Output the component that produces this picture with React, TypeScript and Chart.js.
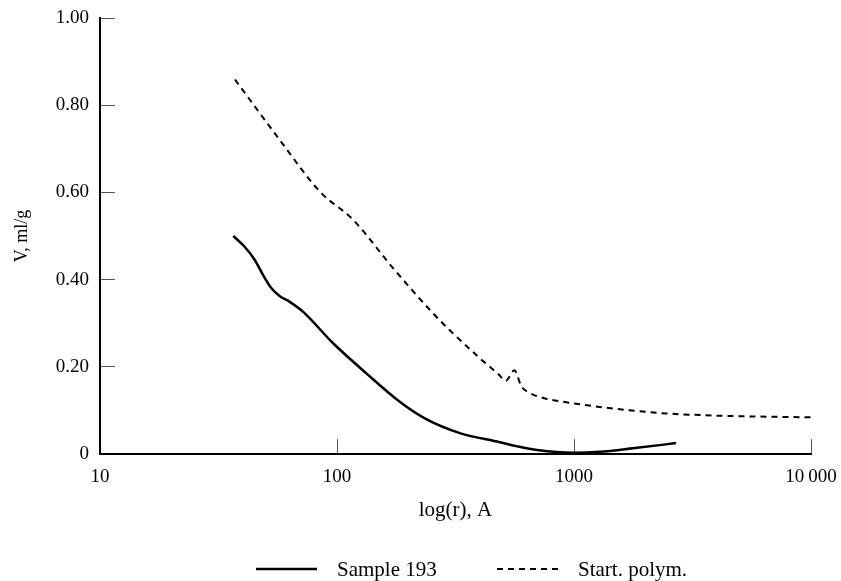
import React, { useEffect, useRef } from "react";
import { Chart, registerables } from "chart.js";

Chart.register(...registerables);

// ---- Data ----
const sampleR = [36.5, 40.5, 45, 48.8, 52.9, 57.4, 63.2, 72, 96.3, 133, 184, 238, 330, 486, 571, 700, 1000, 1282, 1771, 2698];
const sampleV = [0.5, 0.477, 0.445, 0.41, 0.38, 0.362, 0.349, 0.326, 0.254, 0.185, 0.12, 0.08, 0.048, 0.027, 0.018, 0.009, 0.003, 0.005, 0.013, 0.025];

const polymR = [37.1, 57.4, 84.6, 117, 172.6, 254, 299, 400, 480, 515, 560, 600, 650, 750, 900, 1280, 1800, 2450, 3500, 4700, 10000];
const polymV = [0.859, 0.72, 0.602, 0.537, 0.426, 0.323, 0.284, 0.22, 0.183, 0.168, 0.192, 0.155, 0.14, 0.128, 0.12, 0.108, 0.099, 0.093, 0.089, 0.087, 0.084];

const seriesLabels = ["Sample 193", "Start. polym."];

const xTickValues = [10, 100, 1000, 10000];
const xTickLabels = ["10", "100", "1000", "10\u2009000"];
const yTickValues = [0, 0.2, 0.4, 0.6, 0.8, 1.0];
const yTickLabels = ["0", "0.20", "0.40", "0.60", "0.80", "1.00"];

const xTitle = "log(r), A";
const yTitle = "V, ml/g";

// ---- Styles ----
const FONT = "'Liberation Serif', 'Times New Roman', Times, serif";
const legendLineX = [256, 497];
const legendLineLen = 61;
const legendTextGap = 20;
const legendY = 569;

const legendPlugin = {
  id: "paperLegend",
  afterDraw(chart: any) {
    const ctx = chart.ctx;
    ctx.save();
    chart.data.datasets.forEach((ds: any, i: number) => {
      const x0 = legendLineX[i];
      ctx.beginPath();
      ctx.setLineDash(ds.borderDash || []);
      ctx.lineWidth = ds.borderWidth;
      ctx.strokeStyle = ds.borderColor;
      ctx.moveTo(x0, legendY);
      ctx.lineTo(x0 + legendLineLen, legendY);
      ctx.stroke();
      ctx.setLineDash([]);
      ctx.fillStyle = "#000";
      ctx.font = `21px ${FONT}`;
      ctx.textBaseline = "middle";
      ctx.textAlign = "left";
      ctx.fillText(ds.label, x0 + legendLineLen + legendTextGap, legendY + 1);
    });
    ctx.restore();
  },
};

export default function App() {
  const canvasRef = useRef<HTMLCanvasElement | null>(null);

  useEffect(() => {
    const canvas = canvasRef.current;
    if (!canvas) return;
    const chart = new Chart(canvas, {
      type: "line",
      data: {
        datasets: [
          {
            label: seriesLabels[0],
            data: sampleR.map((x, i) => ({ x, y: sampleV[i] })),
            borderColor: "#000",
            borderWidth: 2.5,
            pointRadius: 0,
            fill: false,
            cubicInterpolationMode: "monotone",
          },
          {
            label: seriesLabels[1],
            data: polymR.map((x, i) => ({ x, y: polymV[i] })),
            borderColor: "#000",
            borderWidth: 2,
            borderDash: [6, 5],
            pointRadius: 0,
            fill: false,
            cubicInterpolationMode: "monotone",
          },
        ],
      },
      options: {
        responsive: false,
        animation: false,
        devicePixelRatio: 1,
        layout: { padding: { top: 18, right: 30, bottom: 58, left: 0 } },
        plugins: {
          legend: { display: false },
          tooltip: { enabled: false },
        },
        scales: {
          x: {
            type: "logarithmic",
            position: "bottom",
            min: 10,
            max: 10000,
            afterBuildTicks: (s: any) => {
              s.ticks = xTickValues.map((v) => ({ value: v }));
            },
            afterFit: (s: any) => {
              s.height = 69;
              s.paddingLeft = 0;
              s.paddingRight = 0;
            },
            border: { display: true, color: "#000", width: 2 },
            grid: {
              display: true,
              drawOnChartArea: false,
              drawTicks: true,
              tickLength: -15,
              color: "#555",
              lineWidth: 1,
            },
            ticks: {
              autoSkip: false,
              maxRotation: 0,
              padding: 27,
              color: "#000",
              font: { family: FONT, size: 19 },
              callback: (v: any) => xTickLabels[xTickValues.indexOf(Number(v))] ?? "",
            },
            title: {
              display: true,
              text: xTitle,
              color: "#000",
              font: { family: FONT, size: 21 },
              padding: { top: 0, bottom: 0 },
            },
          },
          y: {
            type: "linear",
            min: 0,
            max: 1,
            afterBuildTicks: (s: any) => {
              s.ticks = yTickValues.map((v) => ({ value: v }));
            },
            afterFit: (s: any) => {
              s.width = 100;
              s.paddingTop = 0;
              s.paddingBottom = 0;
            },
            border: { display: true, color: "#000", width: 2 },
            grid: {
              display: true,
              drawOnChartArea: false,
              drawTicks: true,
              tickLength: -15,
              color: "#555",
              lineWidth: 1,
            },
            ticks: {
              padding: 26,
              color: "#000",
              font: { family: FONT, size: 19 },
              callback: (v: any) => {
                const idx = yTickValues.findIndex((t) => Math.abs(t - Number(v)) < 1e-9);
                return idx >= 0 ? yTickLabels[idx] : "";
              },
            },
            title: {
              display: true,
              text: yTitle,
              color: "#000",
              font: { family: FONT, size: 18 },
              padding: { top: 11, bottom: 0 },
            },
          },
        },
      },
      plugins: [legendPlugin],
    } as any);
    return () => chart.destroy();
  }, []);

  return (
    <div style={{ position: "fixed", left: 0, top: 0, width: 841, height: 581, background: "#fff" }}>
      <canvas ref={canvasRef} width={841} height={581} style={{ display: "block" }} />
    </div>
  );
}
